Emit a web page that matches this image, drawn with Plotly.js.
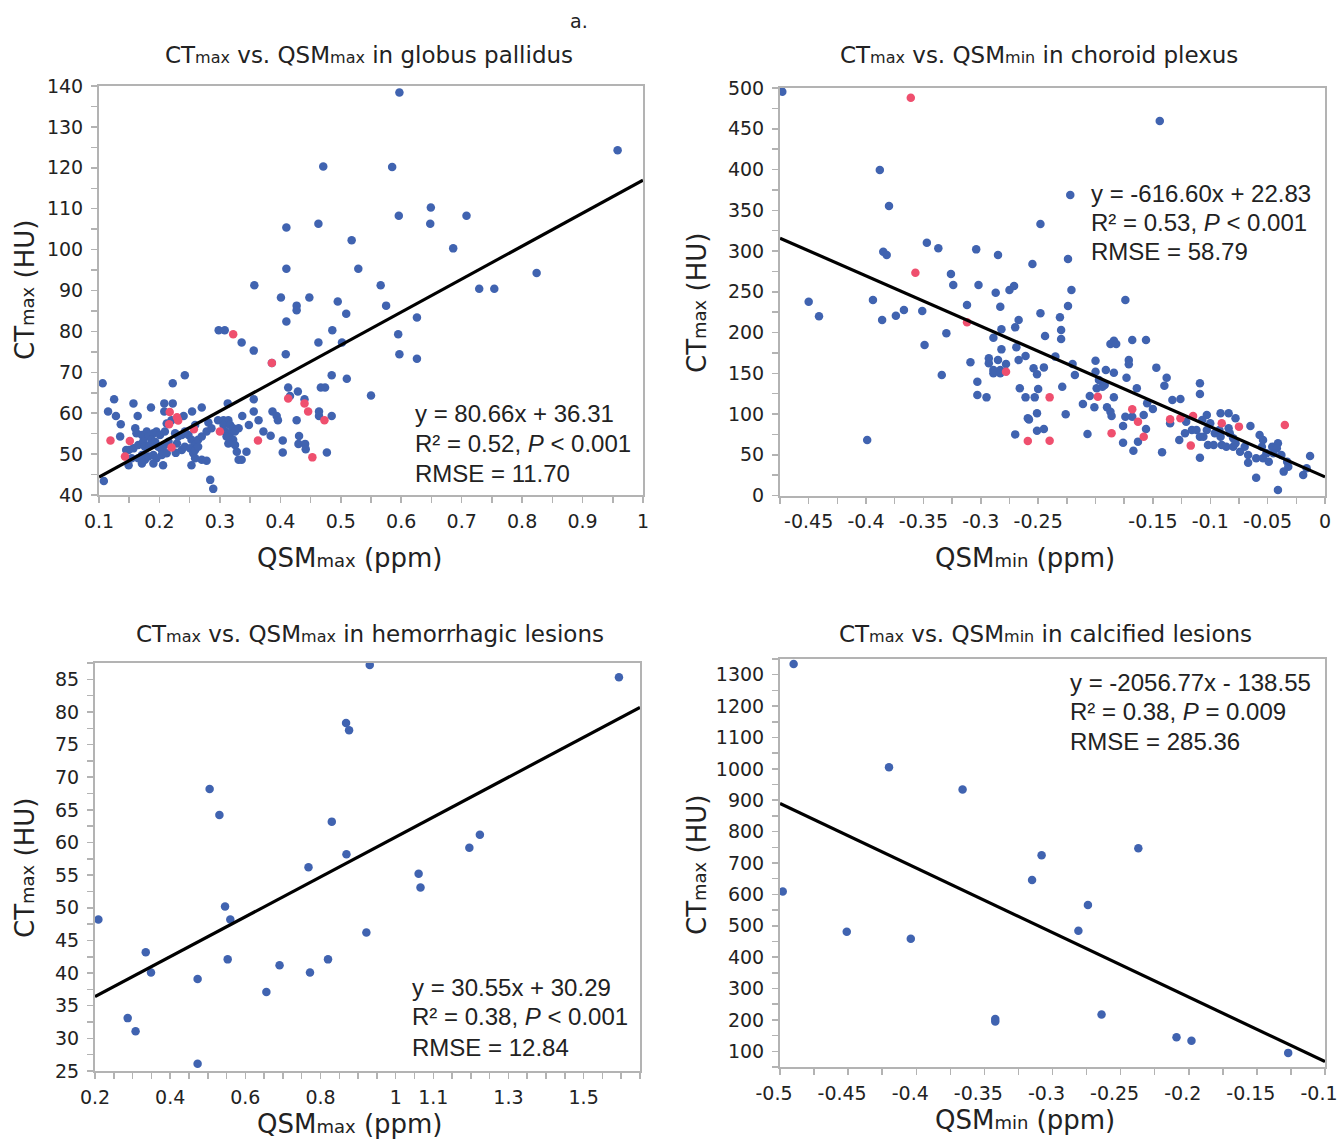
<!DOCTYPE html>
<html>
<head>
<meta charset="utf-8">
<script src="https://cdn.plot.ly/plotly-3.0.1.min.js"></script>
<style>html,body{margin:0;padding:0;background:#fff;}#chart{width:1340px;height:1141px;}</style>
</head>
<body>
<div id="chart"></div>
<script>
// ---------- Panel 1: globus pallidus (QSMmax vs CTmax) ----------
const gpBlueX = [0.471,0.410,0.463,0.518,0.410,0.529,0.357,0.401,0.427,0.427,0.448,0.495,0.509,0.410,0.486,0.298,0.308,0.336,0.463,0.502,0.356,0.409,0.386,
 0.597,0.958,0.585,0.649,0.596,0.648,0.708,0.686,0.566,0.575,0.729,0.754,0.824,0.626,0.595,0.597,0.626,0.550,
 0.242,0.106,0.222,0.485,0.510,0.413,0.467,0.474,0.416,0.429,0.125,0.157,0.186,0.208,0.222,0.270,0.313,0.356,0.440,
 0.115,0.128,0.164,0.208,0.240,0.254,0.356,0.387,0.394,0.337,0.464,0.464,0.485,0.136,0.364,0.427,0.396,0.348,
 0.372,0.384,0.404,0.404,0.431,0.430,0.441,0.442,0.477,0.135,0.145,
 0.160,0.162,0.171,0.179,0.182,0.190,0.195,0.201,0.209,0.212,0.220,0.149,0.157,0.165,0.173,0.176,0.184,0.187,0.193,0.198,0.204,0.209,0.215,
 0.226,0.231,0.237,0.242,0.248,0.253,0.259,0.264,0.270,0.154,0.165,0.171,0.176,0.182,0.190,0.195,0.204,0.212,0.237,0.242,0.251,0.256,0.259,0.264,0.270,0.259,
 0.149,0.171,0.190,0.206,0.253,0.278,0.284,0.289,0.108,0.227,0.229,0.278,0.286,0.281,0.259,0.297,0.306,0.314,0.306,0.317,0.322,0.309,0.317,0.325,0.331,
 0.311,0.322,0.314,0.325,0.328,0.331,0.336,0.344];
const gpBlueY = [120.3,105.4,106.3,102.3,95.3,95.3,91.3,88.3,86.3,85.2,88.3,87.3,84.3,82.4,80.3,80.3,80.3,77.3,77.3,77.3,75.3,74.4,72.3,
 138.4,124.3,120.2,110.3,108.3,106.3,108.3,100.3,91.3,86.3,90.4,90.4,94.3,83.4,79.3,74.4,73.3,64.3,
 69.3,67.3,67.3,69.3,68.4,66.3,66.3,66.3,64.2,65.3,63.4,62.4,61.4,62.4,62.4,61.4,62.4,63.4,63.4,
 60.4,59.3,59.3,60.4,59.3,60.4,60.4,60.4,59.3,59.3,60.4,59.3,59.3,57.3,58.3,58.3,58.3,57.1,
 55.5,54.5,53.3,50.4,54.4,52.5,52.5,51.2,50.4,54.3,51.0,
 56.3,55.1,54.7,55.5,54.3,55.1,55.5,54.7,55.5,57.5,58.3,51.0,51.4,52.2,53.0,51.8,52.2,53.5,53.0,51.8,51.0,52.2,53.0,
 55.1,54.3,54.7,55.5,54.7,53.5,52.2,53.5,54.3,49.0,49.0,49.8,48.6,49.4,49.8,49.0,49.8,50.2,51.0,51.8,51.4,50.2,51.0,51.8,48.6,49.0,
 47.3,47.7,47.7,47.3,47.3,48.4,43.7,41.5,43.4,50.3,52.6,55.5,56.3,57.7,57.1,58.3,58.3,58.3,57.1,57.1,56.3,55.5,55.1,55.5,56.3,
 54.3,53.5,52.6,52.2,50.6,48.6,48.6,50.6];
const gpRedX = [0.119,0.151,0.143,0.216,0.217,0.229,0.231,0.220,0.257,0.300,0.322,0.386,0.363,0.413,0.440,0.446,0.473,0.453];
const gpRedY = [53.3,53.2,49.4,57.3,60.3,59.0,58.2,51.6,56.1,55.5,79.3,72.3,53.3,63.6,62.4,60.4,58.3,49.2];

// ---------- Panel 2: choroid plexus (QSMmin vs CTmax) ----------
const cpBlueX = [-0.473,-0.388,-0.380,-0.385,-0.382,-0.347,-0.337,-0.304,-0.285,-0.255,-0.248,-0.450,-0.441,-0.394,-0.386,-0.374,-0.367,-0.351,
 -0.326,-0.324,-0.302,-0.287,-0.283,-0.275,-0.271,-0.312,-0.349,-0.330,-0.309,-0.334,-0.399,-0.303,-0.303,-0.295,-0.293,-0.293,-0.289,-0.289,
 -0.285,-0.283,-0.283,-0.278,-0.282,-0.282,-0.289,-0.270,-0.267,-0.269,-0.267,-0.261,-0.266,-0.261,-0.253,-0.254,-0.251,-0.250,-0.251,-0.259,
 -0.258,-0.270,-0.251,-0.245,-0.245,-0.248,-0.244,
 -0.222,-0.224,-0.144,-0.156,
 -0.221,-0.224,-0.231,-0.230,-0.230,-0.174,-0.235,-0.229,-0.226,-0.220,-0.218,-0.211,-0.207,-0.205,-0.200,-0.199,-0.200,-0.197,-0.194,-0.192,
 -0.191,-0.184,-0.201,-0.190,-0.187,-0.186,-0.184,-0.176,-0.176,-0.167,-0.173,-0.187,-0.184,-0.182,-0.168,-0.171,-0.171,-0.164,-0.174,-0.168,-0.163,
 -0.147,-0.138,-0.140,-0.109,-0.109,-0.133,-0.126,-0.158,-0.156,-0.142,-0.150,-0.135,-0.122,-0.127,-0.109,-0.091,-0.084,-0.078,-0.065,-0.067,
 -0.067,-0.060,-0.060,-0.041,-0.036,-0.032,-0.033,-0.019,-0.016,-0.013,-0.103,-0.116,-0.107,-0.121,-0.155,
 -0.112,-0.109,-0.106,-0.103,-0.100,-0.102,-0.097,-0.096,-0.092,-0.091,-0.090,-0.086,-0.084,-0.083,-0.080,-0.080,-0.078,-0.074,-0.070,
 -0.057,-0.054,-0.055,-0.051,-0.054,-0.046,-0.041,-0.042,-0.038,-0.045,-0.049];
const cpBlueY = [495.5,399.4,355.2,299.2,295.1,310.2,303.3,302.0,295.1,284.0,333.1,237.8,219.8,239.9,215.3,220.6,227.6,226.4,
 271.8,258.3,258.3,248.9,231.7,252.1,257.0,233.7,184.6,199.0,163.4,147.8,68.1,139.7,123.3,120.4,168.3,162.2,154.0,149.9,
 166.2,154.0,149.9,161.3,179.3,203.9,193.6,206.3,215.3,181.8,166.2,171.1,131.5,120.4,120.4,156.0,148.7,130.7,100.8,94.7,
 93.4,75.0,79.5,81.6,157.2,223.5,195.7,
 368.7,290.2,459.5,190.8,
 252.2,232.5,218.6,203.1,192.0,239.9,170.4,133.5,99.6,161.4,147.9,112.3,75.5,122.1,165.4,131.5,151.9,141.7,133.5,135.6,
 154.0,150.7,108.2,108.2,102.9,97.6,120.5,85.3,64.8,55.0,144.6,185.9,190.0,185.9,190.8,166.3,161.0,131.5,96.7,96.7,66.1,
 156.9,144.6,134.8,137.7,124.6,117.2,118.4,98.8,81.6,53.0,106.2,88.6,76.3,68.1,46.4,100.9,100.9,94.7,85.3,49.7,
 40.3,45.6,21.9,6.8,29.3,35.4,41.5,25.2,33.4,48.5,98.8,80.3,92.6,90.6,113.1,
 80.4,72.2,72.2,80.4,88.6,62.0,62.0,76.3,80.4,72.2,62.0,59.9,82.4,76.3,70.2,59.9,64.0,53.8,59.9,
 74.3,68.1,59.9,51.8,45.6,59.9,64.0,57.9,49.7,51.8,41.5];
const cpRedX = [-0.361,-0.357,-0.312,-0.278,-0.259,-0.240,-0.240,-0.198,-0.186,-0.168,-0.163,-0.158,-0.135,-0.126,-0.115,-0.117,-0.090,-0.075,-0.035];
const cpRedY = [488.1,273.4,212.5,151.9,66.9,67.3,120.4,121.3,76.3,105.7,90.6,72.2,93.5,94.7,97.6,61.2,88.6,84.5,86.5];

// ---------- Panel 3: hemorrhagic lesions (QSMmax vs CTmax) ----------
const hemX = [0.209,0.287,0.308,0.335,0.349,0.473,0.473,0.505,0.531,0.546,0.560,0.553,0.656,0.691,0.768,0.772,0.820,0.830,0.868,0.876,0.869,0.922,0.931,1.594,1.061,1.066,1.196,1.224];
const hemY = [48.2,33.1,31.1,43.2,40.1,26.1,39.1,68.2,64.2,50.2,48.2,42.1,37.1,41.2,56.2,40.1,42.1,63.2,78.3,77.2,58.2,46.2,87.2,85.3,55.2,53.1,59.2,61.2];

// ---------- Panel 4: calcified lesions (QSMmin vs CTmax) ----------
const calX = [-0.490,-0.420,-0.366,-0.498,-0.451,-0.404,-0.308,-0.315,-0.237,-0.274,-0.281,-0.342,-0.342,-0.264,-0.209,-0.198,-0.127];
const calY = [1334,1005,934,609,481,459,725,646,747,566,484,203,195,217,145,134,95];

// ---------- Regression fits (slope, intercept) and stats text ----------
const fitSlope = [80.66, -616.60, 30.55, -2056.77];
const fitIntercept = [36.31, 22.83, 30.29, -138.55];
const statEq = ['y = 80.66x + 36.31', 'y = -616.60x + 22.83', 'y = 30.55x + 30.29', 'y = -2056.77x - 138.55'];
const statR2 = ['R² = 0.52, <i>P</i> < 0.001', 'R² = 0.53, <i>P</i> < 0.001', 'R² = 0.38, <i>P</i> < 0.001', 'R² = 0.38, <i>P</i> = 0.009'];
const statRMSE = ['RMSE = 11.70', 'RMSE = 58.79', 'RMSE = 12.84', 'RMSE = 285.36'];

// ---------- Axis ranges and tick labels ----------
const xRanges = [[0.1, 1], [-0.475, 0], [0.2, 1.65], [-0.5, -0.1]];
const yRanges = [[40, 140], [0, 500], [25, 87.5], [50, 1350]];
const x1Ticks = [0.1,0.2,0.3,0.4,0.5,0.6,0.7,0.8,0.9,1];
const x1Text = ['0.1','0.2','0.3','0.4','0.5','0.6','0.7','0.8','0.9','1'];
const y1Ticks = [40,50,60,70,80,90,100,110,120,130,140];
const x2Ticks = [-0.45,-0.4,-0.35,-0.3,-0.25,-0.15,-0.1,-0.05,0];
const x2Text = ['-0.45','-0.4','-0.35','-0.3','-0.25','-0.15','-0.1','-0.05','0'];
const y2Ticks = [0,50,100,150,200,250,300,350,400,450,500];
const x3Ticks = [0.2,0.4,0.6,0.8,1,1.1,1.3,1.5];
const x3Text = ['0.2','0.4','0.6','0.8','1','1.1','1.3','1.5'];
const y3Ticks = [25,30,35,40,45,50,55,60,65,70,75,80,85];
const x4Ticks = [-0.5,-0.45,-0.4,-0.35,-0.3,-0.25,-0.2,-0.15,-0.1];
const x4Text = ['-0.5','-0.45','-0.4','-0.35','-0.3','-0.25','-0.2','-0.15','-0.1'];
const y4Ticks = [100,200,300,400,500,600,700,800,900,1000,1100,1200,1300];

const titles = [
  'CT<span style="font-size:16px">max</span> vs. QSM<span style="font-size:16px">max</span> in globus pallidus',
  'CT<span style="font-size:16px">max</span> vs. QSM<span style="font-size:16px">min</span> in choroid plexus',
  'CT<span style="font-size:16px">max</span> vs. QSM<span style="font-size:16px">max</span> in hemorrhagic lesions',
  'CT<span style="font-size:16px">max</span> vs. QSM<span style="font-size:16px">min</span> in calcified lesions'
];
const xTitles = [
  'QSM<span style="font-size:18px">max</span> (ppm)',
  'QSM<span style="font-size:18px">min</span> (ppm)',
  'QSM<span style="font-size:18px">max</span> (ppm)',
  'QSM<span style="font-size:18px">min</span> (ppm)'
];
const yTitle = 'CT<span style="font-size:18px">max</span> (HU)';

// ---------- Layout geometry (pixels) ----------
const W = 1340, H = 1141;
const BLUE = '#4063b0', RED = '#ef4f6e';
const AXC = '#b3b3b3', TXT = '#222222';
const px = v => v / W, py = v => 1 - v / H;
const boxes = [ // [left, right, top, bottom] of each plot area in pixels
  [99, 643, 86, 495],
  [780, 1325, 88, 495.5],
  [95, 640, 663, 1071],
  [780, 1325, 659, 1067]
];
const minorX = [0.05, 0.025, 0.05, 0.025];
const minorY = [5, 25, 2.5, 50];
const labelShiftX = [0, 0, 0, -6];
const xTickSets = [[x1Ticks, x1Text], [x2Ticks, x2Text], [x3Ticks, x3Text], [x4Ticks, x4Text]];
const yTickSets = [y1Ticks, y2Ticks, y3Ticks, y4Ticks];

const data = [];
const blueSets = [[gpBlueX, gpBlueY], [cpBlueX, cpBlueY], [hemX, hemY], [calX, calY]];
const redSets = [[gpRedX, gpRedY], [cpRedX, cpRedY], null, null];
for (let i = 0; i < 4; i++) {
  const xa = i === 0 ? 'x' : 'x' + (i + 1), ya = i === 0 ? 'y' : 'y' + (i + 1);
  data.push({type: 'scatter', mode: 'markers', x: blueSets[i][0], y: blueSets[i][1], xaxis: xa, yaxis: ya,
    marker: {color: BLUE, size: 8.5}, showlegend: false, hoverinfo: 'skip'});
  if (redSets[i]) {
    data.push({type: 'scatter', mode: 'markers', x: redSets[i][0], y: redSets[i][1], xaxis: xa, yaxis: ya,
      marker: {color: RED, size: 8.5}, showlegend: false, hoverinfo: 'skip'});
  }
  const lx = xRanges[i].slice();
  const ly = lx.map(v => fitSlope[i] * v + fitIntercept[i]);
  data.push({type: 'scatter', mode: 'lines', x: lx, y: ly, xaxis: xa, yaxis: ya,
    line: {color: '#000', width: 3.2}, showlegend: false, hoverinfo: 'skip'});
}

const layout = {
  width: W, height: H,
  margin: {l: 0, r: 0, t: 0, b: 0},
  paper_bgcolor: '#fff', plot_bgcolor: '#fff',
  font: {family: 'DejaVu Sans', color: TXT},
  showlegend: false,
  annotations: []
};
const tickFont = {family: 'DejaVu Sans', size: 19, color: TXT};
for (let i = 0; i < 4; i++) {
  const b = boxes[i];
  const xk = i === 0 ? 'xaxis' : 'xaxis' + (i + 1), yk = i === 0 ? 'yaxis' : 'yaxis' + (i + 1);
  const ya = i === 0 ? 'y' : 'y' + (i + 1), xa = i === 0 ? 'x' : 'x' + (i + 1);
  layout[xk] = {
    domain: [px(b[0]), px(b[1])], anchor: ya, range: xRanges[i],
    tickmode: 'array', tickvals: xTickSets[i][0], ticktext: xTickSets[i][1],
    ticks: 'outside', ticklen: 6, tickwidth: 1.5, tickcolor: AXC,
    minor: {ticks: 'outside', ticklen: 6, tickwidth: 1.5, tickcolor: AXC, tick0: 0, dtick: minorX[i], showgrid: false},
    showline: true, linecolor: AXC, linewidth: 2, mirror: true,
    showgrid: false, zeroline: false, tickfont: tickFont, ticklabelstandoff: 2,
    ticklabelshift: labelShiftX[i], ticklabeloverflow: 'allow'
  };
  layout[yk] = {
    domain: [py(b[3]), py(b[2])], anchor: xa, range: yRanges[i],
    tickmode: 'array', tickvals: yTickSets[i],
    ticks: 'outside', ticklen: 6, tickwidth: 1.5, tickcolor: AXC,
    minor: {ticks: 'outside', ticklen: 6, tickwidth: 1.5, tickcolor: AXC, tick0: 0, dtick: minorY[i], showgrid: false},
    showline: true, linecolor: AXC, linewidth: 2, mirror: true,
    showgrid: false, zeroline: false, tickfont: tickFont, ticklabelstandoff: 4,
    ticklabeloverflow: 'allow'
  };
}

function ann(text, x, y, opts) {
  return Object.assign({text: text, x: px(x), y: py(y), xref: 'paper', yref: 'paper', showarrow: false,
    xanchor: 'center', yanchor: 'middle', font: {family: 'DejaVu Sans', size: 23, color: TXT}}, opts || {});
}
// panel titles
const titlePos = [[369, 55], [1039, 55], [370, 634], [1045, 634]];
for (let i = 0; i < 4; i++) layout.annotations.push(ann(titles[i], titlePos[i][0], titlePos[i][1]));
layout.annotations.push(ann('a.', 579, 21, {font: {family: 'DejaVu Sans', size: 19, color: TXT}}));
// axis titles
const xTitlePos = [[350, 558], [1025, 558], [350, 1124], [1025, 1120]];
const yTitlePos = [[25, 290], [697, 303], [25, 868], [697, 865]];
for (let i = 0; i < 4; i++) {
  layout.annotations.push(ann(xTitles[i], xTitlePos[i][0], xTitlePos[i][1], {font: {family: 'DejaVu Sans', size: 26, color: TXT}}));
  layout.annotations.push(ann(yTitle, yTitlePos[i][0], yTitlePos[i][1], {textangle: -90, font: {family: 'DejaVu Sans', size: 26, color: TXT}}));
}
// regression statistics
const statPos = [[413, [413, 443, 473]], [1089, [193, 222, 251]], [410, [987, 1017, 1047]], [1068, [682, 711, 741]]];
const statFont = {family: 'Liberation Sans', size: 24, color: TXT};
for (let i = 0; i < 4; i++) {
  const rows = [statEq[i], statR2[i], statRMSE[i]];
  for (let r = 0; r < 3; r++) {
    layout.annotations.push(ann(rows[r], statPos[i][0], statPos[i][1][r], {xanchor: 'left', font: statFont}));
  }
}

Plotly.newPlot('chart', data, layout, {staticPlot: true, displayModeBar: false});
</script>
</body>
</html>
